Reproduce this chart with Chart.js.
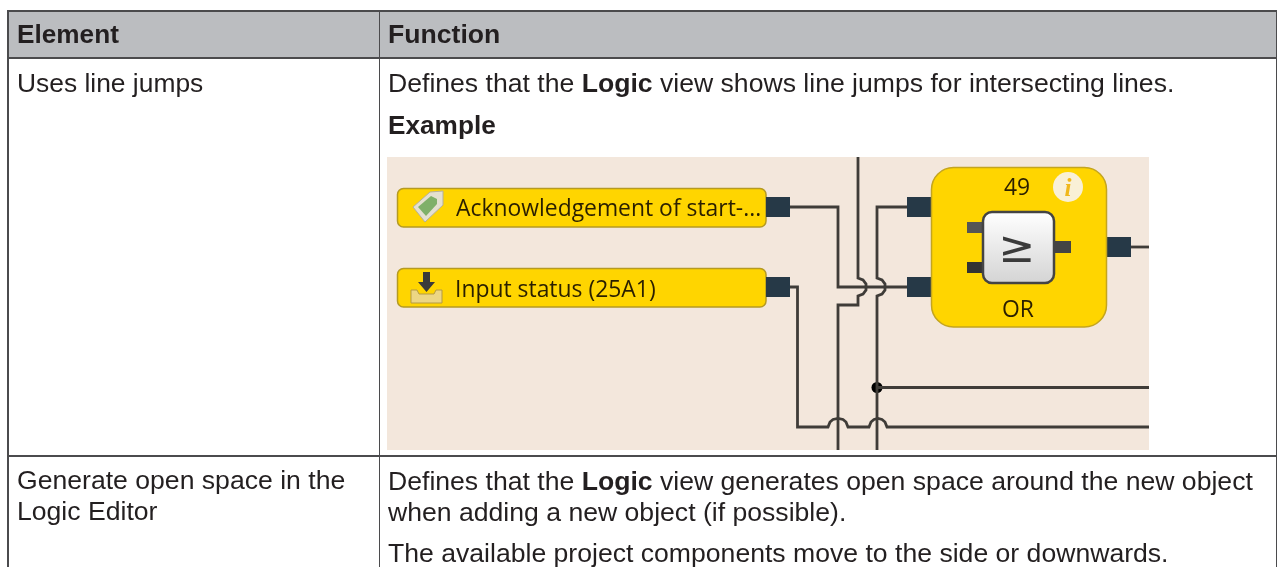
<!DOCTYPE html>
<html><head><meta charset="utf-8">
<script src="https://cdn.jsdelivr.net/npm/chart.js@4"></script>
<style>
html,body{margin:0;padding:0;background:#fff;width:1284px;height:567px;overflow:hidden}
.t{position:absolute;white-space:nowrap;font:26.6px/30px "Liberation Sans",Arial,sans-serif;color:#231f20;filter:blur(.25px)}
.r{position:absolute;box-sizing:border-box}
#wrap{position:absolute;left:387px;top:157px;width:762px;height:293px}
canvas{filter:blur(.35px)}
</style></head><body>
<div class="r" style="left:7px;top:10px;width:1270px;height:48px;background:#bbbdc0"></div>
<div id="wrap"><canvas id="c" width="762" height="293"></canvas></div>
<script>
// table contents
const headers = ["Element", "Function"];
const rowOneElement = "Uses line jumps";
const rowOneFunction = 'Defines that the <b>Logic</b> view shows line jumps for intersecting lines.';
const exampleHeading = "Example";
const rowTwoElement = ["Generate open space in the", "Logic Editor"];
const rowTwoFunction = ['Defines that the <b>Logic</b> view generates open space around the new object',
  'when adding a new object (if possible).', 'The available project components move to the side or downwards.'];

// diagram contents, in the units of the diagram's own x and y scales
const inputLabels = ["Acknowledgement of start-...", "Input status (25A1)"];
const blockNumber = "49", blockName = "OR", blockSymbol = "\u2265", infoGlyph = "i";
const wireA = [[403,50],[451,50],[451,130],[520,130]];
const wireB = [[471,0],[471,121],[476,123],[479,127],[479,133],[476,137],[471,139],[471,148],[451,148],[451,293]];
const wireC = [[520,50],[490,50],[490,121],[495,123],[498,127],[498,133],[495,137],[490,139],[490,293]];
const wireD = [[490,230.5],[762,230.5]];
const wireE = [[403,130],[410.5,130],[410.5,270],[441,270],[443,265],[446,262.5],[451,261.5],[456,262.5],[459,265],[461,270],
  [482,270],[484,265],[487,262.5],[491,261.5],[495,262.5],[498,265],[500,270],[762,270]];
const wireF = [[744,90],[762,90]];
const junction = [[490,230.5]];
const labelBoxes = [[10.5,31.5,379,70],[10.5,111.5,379,150]];
const ports = [[379,40,403,60],[379,120,403,140],[520,40,544,60],[520,120,544,140],[720,80,744,100]];
const blockBody = [544.5,10.5,719.5,170];
const symbolBox = [596,55,667,126];
const pins = [[580,65,596,76,"#555"],[580,105,596,116,"#333"],[667,84,684,96,"#444"]];
const tagOuter = [[26,50],[43,35],[56,34],[56,48],[38,65]];
const tagInner = [[31,50],[44,39],[50,42],[50,47],[39,59]];
const arrowShape = [[36,115],[43,115],[43,125],[48,125],[39.5,135],[31,125],[36,125]];
const trayShape = [[24,133],[30,133],[32,137],[47,137],[49,133],[55,133],[55,146],[24,146]];

function rr(ctx,s,a,b,c,d,r){const x0=s.x.getPixelForValue(a),y0=s.y.getPixelForValue(b),x1=s.x.getPixelForValue(c),y1=s.y.getPixelForValue(d);
  ctx.beginPath();ctx.roundRect(x0,y0,x1-x0,y1-y0,r);return [x0,y0,x1,y1];}
function poly(ctx,s,pts){ctx.beginPath();pts.forEach((p,i)=>{const x=s.x.getPixelForValue(p[0]),y=s.y.getPixelForValue(p[1]);i?ctx.lineTo(x,y):ctx.moveTo(x,y);});ctx.closePath();}
const UI='"Open Sans","Noto Sans",sans-serif';

const schematic={id:'schematic',afterDatasetsDraw(ch){
  const ctx=ch.ctx,s=ch.scales;ctx.save();
  // input labels
  labelBoxes.forEach(b=>{rr(ctx,s,b[0],b[1],b[2],b[3],6);ctx.fillStyle='#ffd500';ctx.fill();ctx.lineWidth=1.5;ctx.strokeStyle='#b59a22';ctx.stroke();});
  ctx.fillStyle='#2a1f00';ctx.font='22.9px '+UI;ctx.textBaseline='alphabetic';
  ctx.fillText(inputLabels[0],s.x.getPixelForValue(69),s.y.getPixelForValue(59));
  ctx.fillText(inputLabels[1],s.x.getPixelForValue(68),s.y.getPixelForValue(140));
  // ports
  ports.forEach(p=>{rr(ctx,s,p[0],p[1],p[2],p[3],0);ctx.fillStyle='#263947';ctx.fill();});
  // block
  rr(ctx,s,blockBody[0],blockBody[1],blockBody[2],blockBody[3],22);ctx.fillStyle='#ffd500';ctx.fill();ctx.strokeStyle='#c4a51e';ctx.lineWidth=1.5;ctx.stroke();
  pins.forEach(p=>{rr(ctx,s,p[0],p[1],p[2],p[3],0);ctx.fillStyle=p[4];ctx.fill();});
  const box=rr(ctx,s,symbolBox[0],symbolBox[1],symbolBox[2],symbolBox[3],9);
  const g=ctx.createLinearGradient(0,box[1],0,box[3]);g.addColorStop(0,'#ffffff');g.addColorStop(1,'#d4d4d4');ctx.fillStyle=g;ctx.fill();ctx.strokeStyle='#444';ctx.lineWidth=2.5;ctx.stroke();
  ctx.textAlign='center';ctx.fillStyle='#2a1f00';ctx.font='22.9px '+UI;
  ctx.fillText(blockNumber,s.x.getPixelForValue(630),s.y.getPixelForValue(38));
  ctx.fillText(blockName,s.x.getPixelForValue(631),s.y.getPixelForValue(160));
  ctx.fillStyle='#3a3a3a';ctx.font='44px "DejaVu Sans",sans-serif';
  ctx.fillText(blockSymbol,s.x.getPixelForValue(630),s.y.getPixelForValue(105));
  // info badge
  ctx.beginPath();ctx.arc(s.x.getPixelForValue(681),s.y.getPixelForValue(30),15,0,Math.PI*2);ctx.fillStyle='#f9f0d6';ctx.fill();
  ctx.fillStyle='#f0b71a';ctx.font='italic bold 25px "Liberation Serif",serif';
  ctx.fillText(infoGlyph,s.x.getPixelForValue(681),s.y.getPixelForValue(39));
  // tag icon
  poly(ctx,s,tagOuter);ctx.fillStyle='#e4e0d0';ctx.fill();ctx.strokeStyle='#b5b09a';ctx.lineWidth=1;ctx.stroke();
  poly(ctx,s,tagInner);ctx.fillStyle='#7fb069';ctx.fill();
  // inbox icon
  poly(ctx,s,trayShape);ctx.fillStyle='#ecd684';ctx.fill();ctx.strokeStyle='#b39a45';ctx.lineWidth=1;ctx.stroke();
  poly(ctx,s,arrowShape);ctx.fillStyle='#3a3a3a';ctx.fill();
  ctx.restore();
}};
const toPts=a=>a.map(p=>({x:p[0],y:p[1]}));
const wire=a=>({type:'line',data:toPts(a),borderColor:'#3f3c38',borderWidth:2.8,pointRadius:0,fill:false,tension:0});
new Chart(document.getElementById('c'),{
  type:'scatter',
  data:{datasets:[
    wire(wireA),wire(wireB),wire(wireC),wire(wireD),wire(wireE),wire(wireF),
    {type:'scatter',data:toPts(junction),pointRadius:5.5,pointBackgroundColor:'#000',pointBorderWidth:0}
  ]},
  options:{responsive:false,animation:false,devicePixelRatio:1,
    layout:{padding:0,autoPadding:false},
    plugins:{legend:{display:false},tooltip:{enabled:false},title:{display:false}},
    scales:{x:{type:'linear',min:0,max:762,display:false},y:{type:'linear',min:0,max:293,reverse:true,display:false}}},
  plugins:[{id:'bg',beforeDraw(ch){const c=ch.ctx;c.save();c.fillStyle='#f3e7dc';c.fillRect(0,0,ch.width,ch.height);c.restore();}},schematic]
});
// table frame
const frame=[[7,10,1.6,557],[378.8,10,1.6,557],[1275.8,10,1.6,557],[7,10,1270,1.8],[7,57,1270,1.6],[7,455,1270,1.6]];
frame.forEach(f=>{const d=document.createElement('div');d.className='r';d.style.cssText+=`left:${f[0]}px;top:${f[1]}px;width:${f[2]}px;height:${f[3]}px;background:#4b4b4d`;document.body.appendChild(d);});
function put(html,x,base,bold,size){const d=document.createElement('div');d.className='t';d.innerHTML=html;d.style.left=x+'px';d.style.top=(base-24.1)+'px';if(bold)d.style.fontWeight='bold';if(size)d.style.fontSize=size+'px';document.body.appendChild(d);}
put(headers[0],17,43,true,26.2);put(headers[1],388,43,true);
put(rowOneElement,17,92,false,26.4);put(rowOneFunction,388,92);put(exampleHeading,388,134,true,26.2);
put(rowTwoElement[0],17,489);put(rowTwoElement[1],17,520);
put(rowTwoFunction[0],388,490);put(rowTwoFunction[1],388,521);put(rowTwoFunction[2],388,562);
</script></body></html>
